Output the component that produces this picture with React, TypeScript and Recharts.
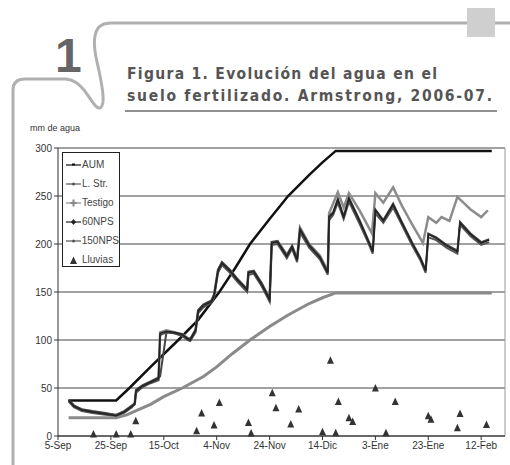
import React from "react";
import {
  ComposedChart,
  Line,
  Scatter,
  XAxis,
  YAxis,
  CartesianGrid,
  ReferenceLine,
} from "recharts";

// days counted from 5-Sep-2006
const tickDays = [0, 20, 40, 60, 80, 100, 120, 140, 160];
const tickLabels = ["5-Sep", "25-Sep", "15-Oct", "4-Nov", "24-Nov", "14-Dic", "3-Ene", "23-Ene", "12-Feb"];
const yTicks = [0, 50, 100, 150, 200, 250, 300];

const aumDays = [4, 22, 27, 35, 45.5, 53, 61, 67, 72.6, 80, 87, 95, 100, 105, 164];
const aumVals = [37, 37, 50, 72, 100, 121, 150, 175, 200, 226, 250, 272, 285, 297, 297];

const halfDays = [4, 22, 26, 30, 35, 40, 47, 55, 60, 66, 72.6, 80, 87, 95, 100, 105, 164];
const halfVals = [19, 19, 22, 27, 33, 41, 50, 62, 72, 86, 100, 114, 126, 138, 144, 149, 149];

const npsDays = [4, 6, 9, 13, 18, 22, 25, 28, 29, 29.5, 32, 35, 38, 38.6, 41, 44, 47, 49, 50, 52, 53, 55, 58, 59, 60.5, 62, 65, 68, 71.5, 72, 74, 77, 80, 80.8, 83, 86.5, 88.5, 90.4, 91.5, 95, 99, 102, 102.5, 104, 105.8, 108, 110, 114, 117, 119, 120, 123, 126.7, 130, 134, 137, 139, 140, 143, 147, 151, 152, 156, 160, 163];
const nps60Vals = [37, 31, 27, 25, 23, 21, 25, 31, 33, 47, 52, 56, 60, 107, 109, 108, 106, 101, 100, 110, 130, 136, 140, 146, 172, 180, 172, 162, 152, 170, 171, 158, 142, 201, 202, 187, 197, 183, 215, 198, 186, 170, 228, 232, 246, 228, 247, 224, 205, 192, 235, 224, 241, 222, 200, 185, 172, 210, 206, 198, 192, 222, 210, 201, 204];
const lstrVals = [36, 30, 26, 24, 22, 21, 24, 30, 34, 45, 51, 55, 58, 105, 108, 107, 104, 100, 99, 108, 128, 134, 139, 144, 170, 178, 170, 160, 150, 168, 169, 156, 140, 199, 200, 185, 195, 181, 212, 196, 184, 168, 225, 230, 243, 226, 244, 221, 203, 190, 232, 222, 238, 220, 198, 183, 170, 207, 204, 196, 190, 220, 208, 199, 202];
const nps150Vals = [38, 32, 28, 26, 24, 22, 26, 32, 34, 48, 53, 57, 61, 62, 108, 107, 105, 102, 101, 111, 131, 137, 141, 147, 173, 181, 173, 163, 153, 171, 172, 159, 143, 202, 203, 188, 198, 184, 216, 199, 187, 171, 229, 233, 247, 229, 248, 225, 206, 193, 236, 225, 242, 223, 201, 186, 173, 211, 207, 199, 193, 223, 211, 202, 205];

const testDays = [4, 6, 9, 13, 18, 22, 25, 28, 29, 29.5, 32, 35, 38, 38.6, 41, 44, 47, 49, 50, 52, 53, 55, 58, 59, 60.5, 62, 65, 68, 71.5, 72, 74, 77, 80, 80.8, 83, 86.5, 88.5, 90.4, 91.5, 95, 99, 102, 102.5, 105.8, 108, 110, 114, 118.7, 120, 123, 126.7, 130, 134, 138, 140, 143, 145, 148, 151, 156, 160, 162.5];
const testVals = [37, 31, 27, 25, 23, 22, 25, 31, 33, 46, 52, 56, 59, 108, 110, 108, 106, 102, 101, 110, 131, 137, 141, 147, 173, 181, 173, 163, 153, 171, 172, 159, 143, 202, 203, 189, 198, 185, 217, 200, 188, 172, 232, 254, 238, 253, 235, 211, 253, 243, 259, 240, 220, 201, 228, 222, 228, 224, 249, 236, 228, 235];

const rainDays = [13.4, 22, 27.5, 29.4, 52.4, 54.3, 59, 61, 72, 73, 81, 82.4, 88, 91, 100, 103, 105, 106, 110, 111.4, 120, 124, 127.5, 140, 141, 151, 152, 162];
const rainVals = [2, 2, 2, 16, 5.5, 24, 11.5, 35, 14, 3, 45, 29.5, 12.5, 28, 4.5, 79, 3.5, 36, 19, 15, 50, 3.5, 36, 21, 17.5, 8.5, 23.5, 12];

const toPts = (days: number[], vals: number[]) => days.map((d, i) => ({ d, v: vals[i] }));

const aum = toPts(aumDays, aumVals);
const half = toPts(halfDays, halfVals);
const nps60 = toPts(npsDays, nps60Vals);
const lstr = toPts(npsDays, lstrVals);
const nps150 = toPts(npsDays, nps150Vals);
const testigo = toPts(testDays, testVals);
const lluvias = toPts(rainDays, rainVals);

const AXIS = "#333";
const FONT = "Arial, 'Liberation Sans', sans-serif";

const Tri = (p: any) => {
  const { cx, cy } = p;
  if (cx == null || cy == null) return null;
  return <path d={`M${cx - 3.5},${cy + 3.5} L${cx},${cy - 4} L${cx + 3.5},${cy + 3.5} Z`} fill="#333" />;
};

const legendItems = [
  { name: "AUM", color: "#111", mark: "dash" },
  { name: "L. Str.", color: "#555", mark: "dot" },
  { name: "Testigo", color: "#888", mark: "plus" },
  { name: "60NPS", color: "#222", mark: "diamond" },
  { name: "150NPS", color: "#555", mark: "dot" },
  { name: "Lluvias", color: "#333", mark: "tri" },
];

const LegendBox = () => (
  <div
    style={{
      position: "absolute",
      left: 62,
      top: 152,
      width: 58,
      height: 115,
      border: "1.5px solid #222",
      background: "#fff",
      fontFamily: FONT,
      fontSize: 10,
      color: "#444",
      padding: "2px 0 0 0",
      boxSizing: "border-box",
    }}
  >
    {legendItems.map((it) => (
      <div key={it.name} style={{ height: 19, display: "flex", alignItems: "center", whiteSpace: "nowrap" }}>
        <svg width={17} height={10} style={{ marginLeft: 2 }}>
          {it.mark !== "tri" && <line x1={1} y1={5} x2={16} y2={5} stroke={it.color} strokeWidth={1.2} />}
          {it.mark === "dash" && <rect x={7} y={3.5} width={3} height={2} fill={it.color} />}
          {it.mark === "dot" && <circle cx={8.5} cy={5} r={1.5} fill={it.color} />}
          {it.mark === "plus" && <path d="M8.5,1.5 L8.5,8.5 M5.5,5 L11.5,5" stroke={it.color} strokeWidth={2} />}
          {it.mark === "diamond" && <path d="M8.5,2 L11,5 L8.5,8 L6,5 Z" fill={it.color} />}
          {it.mark === "tri" && <path d="M5,9 L8.5,1.5 L12,9 Z" fill={it.color} />}
        </svg>
        <span>{it.name}</span>
      </div>
    ))}
  </div>
);

export default function App() {
  return (
    <div style={{ position: "absolute", left: 0, top: 0, width: 510, height: 465, background: "#fff", overflow: "hidden" }}>
      <svg width={510} height={465} style={{ position: "absolute", left: 0, top: 0 }}>
        <path
          d="M 13 465 L 13 90 Q 13 79 25 79 L 66 79 Q 76 80 84 90 L 94 104 Q 101 113 103 102 Q 104 92 97 62 Q 91 36 99 27 Q 103 23 112 23 L 510 23"
          fill="none"
          stroke="#b0b0b0"
          strokeWidth={3}
        />
        <rect x={467} y={8} width={28} height={29} fill="#cfcfcf" />
        <text x={55} y={72} fontFamily="'Liberation Sans', Arial, sans-serif" fontWeight="bold" fontSize={48} fill="#666">
          1
        </text>
        <text
          x={127}
          y={79}
          fontFamily="'DejaVu Sans Condensed', 'DejaVu Sans', sans-serif"
          fontWeight="bold"
          fontSize={15.5}
          fill="#555"
          textLength={310}
          lengthAdjust="spacing"
        >
          Figura 1. Evolución del agua en el
        </text>
        <text
          x={127}
          y={101}
          fontFamily="'DejaVu Sans Condensed', 'DejaVu Sans', sans-serif"
          fontWeight="bold"
          fontSize={15.5}
          fill="#555"
          textLength={365}
          lengthAdjust="spacing"
        >
          suelo fertilizado. Armstrong, 2006-07.
        </text>
        <line x1={125} y1={111} x2={497} y2={111} stroke="#222" strokeWidth={1} />
        <text x={30} y={131} fontFamily={FONT} fontSize={9} fill="#333">
          mm de agua
        </text>
      </svg>
      <div style={{ position: "absolute", left: 0, top: 0 }}>
        <ComposedChart width={510} height={465} margin={{ top: 148, right: 5, bottom: 0, left: 0 }}>
          <CartesianGrid horizontal vertical={false} stroke="#444" strokeWidth={1} />
          <XAxis
            dataKey="d"
            type="number"
            domain={[0, 169]}
            ticks={tickDays}
            tickFormatter={(v: number) => tickLabels[tickDays.indexOf(v)] ?? ""}
            height={29}
            tick={{ fontSize: 10, fill: AXIS, fontFamily: FONT }}
            tickSize={4}
            stroke={AXIS}
            allowDataOverflow
          />
          <YAxis
            type="number"
            domain={[0, 300]}
            ticks={yTicks}
            width={58}
            tick={{ fontSize: 10, fill: AXIS, fontFamily: FONT }}
            tickSize={4}
            stroke={AXIS}
          />
          <ReferenceLine x={169} stroke="#999" strokeWidth={1} ifOverflow="extendDomain" />
          <Line data={half} dataKey="v" stroke="#8a8a8a" strokeWidth={3} dot={false} isAnimationActive={false} legendType="none" />
          <Line data={aum} dataKey="v" name="AUM" stroke="#111" strokeWidth={2.5} dot={false} isAnimationActive={false} />
          <Line data={testigo} dataKey="v" name="Testigo" stroke="#8c8c8c" strokeWidth={2.5} dot={false} isAnimationActive={false} />
          <Line data={lstr} dataKey="v" name="L. Str." stroke="#555" strokeWidth={2} dot={false} isAnimationActive={false} />
          <Line data={nps150} dataKey="v" name="150NPS" stroke="#444" strokeWidth={2} dot={false} isAnimationActive={false} />
          <Line data={nps60} dataKey="v" name="60NPS" stroke="#222" strokeWidth={1.5} dot={false} isAnimationActive={false} />
          <Scatter data={lluvias} dataKey="v" name="Lluvias" shape={<Tri />} isAnimationActive={false} />
        </ComposedChart>
      </div>
      <LegendBox />
    </div>
  );
}
